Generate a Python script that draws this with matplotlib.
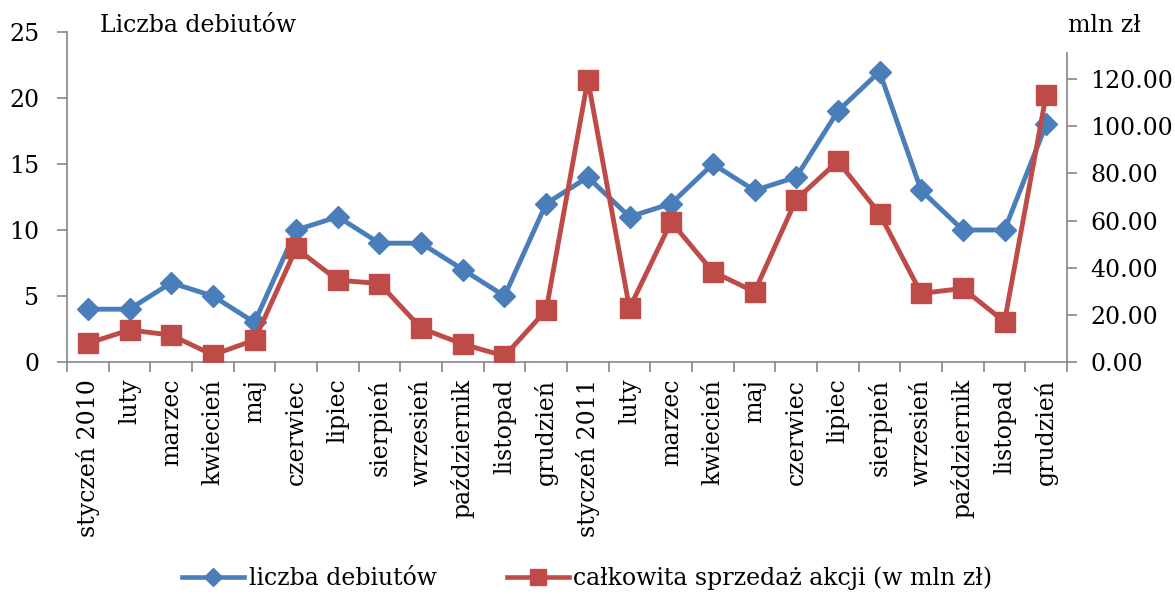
import matplotlib
matplotlib.use("Agg")
import matplotlib.pyplot as plt
from matplotlib.lines import Line2D

plt.rcParams['font.family'] = ['DejaVu Serif']

categories = ["styczeń 2010", "luty", "marzec", "kwiecień", "maj", "czerwiec", "lipiec",
              "sierpień", "wrzesień", "październik", "listopad", "grudzień",
              "styczeń 2011", "luty", "marzec", "kwiecień", "maj", "czerwiec", "lipiec",
              "sierpień", "wrzesień", "październik", "listopad", "grudzień"]
debiuty = [4, 4, 6, 5, 3, 10, 11, 9, 9, 7, 5, 12, 14, 11, 12, 15, 13, 14, 19, 22, 13, 10, 10, 18]
sprzedaz = [7.9, 13.6, 11.4, 3.0, 9.3, 48.2, 34.7, 33.3, 14.3, 7.6, 2.5, 22.0,
            119.8, 22.8, 59.5, 38.3, 29.8, 68.9, 85.2, 63.0, 29.1, 31.2, 17.1, 113.4]
left_ticks = [0, 5, 10, 15, 20, 25]
right_ticks = [0, 20, 40, 60, 80, 100, 120]

blue = '#4A7EBB'
red = '#BE4B48'
gray = '#868686'
fs = 17

fig = plt.figure(figsize=(11.75, 5.94), dpi=100)
ax = fig.add_axes([67/1175, 1-362/594, 1000/1175, 330/594])
ax2 = ax.twinx()

x = list(range(len(categories)))
ax.plot(x, debiuty, color=blue, lw=3.5, marker='D', ms=11, zorder=3)
ax2.plot(x, sprzedaz, color=red, lw=3.5, marker='s', ms=14, zorder=3)

ax.set_xlim(-0.5, len(categories) - 0.5)
ax.set_ylim(0, 25)
ax2.set_ylim(0, 140)
ax.set_yticks(left_ticks)
ax.set_yticklabels([str(t) for t in left_ticks], fontsize=fs)
ax2.set_yticks(right_ticks)
ax2.set_yticklabels([f"{t:.2f}" for t in right_ticks], fontsize=fs)

ax.set_xticks([i - 0.5 for i in range(len(categories) + 1)])
ax.set_xticklabels([])
ax.set_xticks(x, minor=True)
ax.set_xticklabels(categories, minor=True, rotation=90, fontsize=fs, va='top', ha='center')
ax.tick_params(axis='x', which='minor', length=0, pad=12)
ax.tick_params(axis='x', which='major', length=7, color=gray, width=1.2, direction='out')
ax.tick_params(axis='y', length=7, color=gray, width=1.2, direction='out', pad=13)
ax2.tick_params(axis='y', length=7, color=gray, width=1.2, direction='out', pad=10)

for a in (ax, ax2):
    a.spines['top'].set_visible(False)
ax2.spines['left'].set_visible(False)
ax2.spines['bottom'].set_visible(False)
ax.spines['right'].set_visible(False)
ax.spines['left'].set_color(gray)
ax.spines['bottom'].set_color(gray)
ax2.spines['right'].set_color(gray)
for sp in (ax.spines['left'], ax.spines['bottom'], ax2.spines['right']):
    sp.set_linewidth(1.2)
ax2.spines['right'].set_bounds(0, 131)

fig.text(100/1175, 1-25/594, "Liczba debiutów", fontsize=fs, ha='left', va='center')
fig.text(1068/1175, 1-25/594, "mln zł", fontsize=fs, ha='left', va='center')

handles = [Line2D([], [], color=blue, lw=3.3, marker='D', ms=9),
           Line2D([], [], color=red, lw=3.3, marker='s', ms=11)]
fig.legend(handles, ["liczba debiutów", "całkowita sprzedaż akcji (w mln zł)"],
           loc='center', bbox_to_anchor=(0.5, 1-578/594), ncol=2, frameon=False,
           fontsize=fs, handlelength=2.6, handletextpad=0.2, columnspacing=3.0)

fig.savefig("out.png", dpi=100)
